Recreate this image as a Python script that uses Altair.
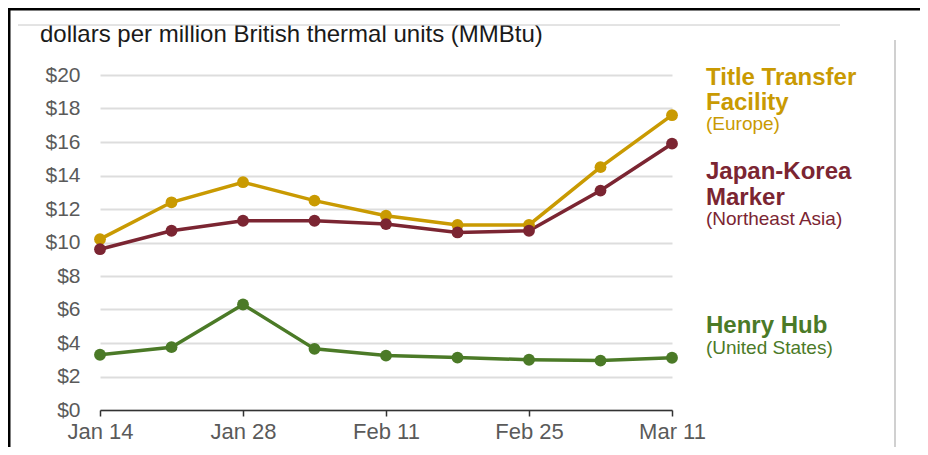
import altair as alt
import pandas as pd

dates = ["Jan 14", "Jan 21", "Jan 28", "Feb 4", "Feb 11", "Feb 18", "Feb 25", "Mar 4", "Mar 11"]
tick_dates = ["Jan 14", "Jan 28", "Feb 11", "Feb 25", "Mar 11"]
ttf = [10.2, 12.4, 13.6, 12.5, 11.6, 11.05, 11.05, 14.5, 17.6]
jkm = [9.6, 10.7, 11.3, 11.3, 11.1, 10.6, 10.7, 13.1, 15.9]
henry = [3.3, 3.75, 6.3, 3.65, 3.25, 3.13, 3.0, 2.95, 3.12]

series_names = ["Title Transfer Facility", "Japan-Korea Marker", "Henry Hub"]
series_colors = ["#C99A02", "#7B2532", "#4B7A27"]

unit_title = "dollars per million British thermal units (MMBtu)"
label_lines = [
    ("Title Transfer", "bold", 24, series_colors[0]),
    ("Facility", "bold", 24, series_colors[0]),
    ("(Europe)", "normal", 19, series_colors[0]),
    ("Japan-Korea", "bold", 24, series_colors[1]),
    ("Marker", "bold", 24, series_colors[1]),
    ("(Northeast Asia)", "normal", 19, series_colors[1]),
    ("Henry Hub", "bold", 24, series_colors[2]),
    ("(United States)", "normal", 19, series_colors[2]),
]
label_baselines = [10, 35, 55, 104, 130, 150, 258, 279]

rows = []
for name, vals in zip(series_names, [ttf, jkm, henry]):
    for d, v in zip(dates, vals):
        rows.append({"date": d, "price": v, "series": name})
df = pd.DataFrame(rows)

FONT = "Liberation Sans"

color = alt.Color("series:N", scale=alt.Scale(domain=series_names, range=series_colors), legend=None)
x = alt.X("date:O", sort=dates, title=None,
          scale=alt.Scale(type="point", padding=0),
          axis=alt.Axis(values=tick_dates, labelAngle=0, labelFontSize=22, labelFont=FONT,
                        labelColor="#5a5a5a", labelPadding=5, tickSize=6, tickWidth=1.5,
                        tickColor="#333333", domainColor="#333333", domainWidth=1.5,
                        grid=False))
y = alt.Y("price:Q", title=None,
          scale=alt.Scale(domain=[0, 20], nice=False, zero=True),
          axis=alt.Axis(values=list(range(0, 21, 2)), labelExpr="'$' + datum.value",
                        labelFontSize=21, labelFont=FONT, labelColor="#5a5a5a",
                        labelPadding=20, ticks=False, domain=False,
                        grid=True, gridColor="#dddddd", gridWidth=2))

base = alt.Chart(df)
lines = base.mark_line(strokeWidth=3.5).encode(x=x, y=y, color=color, detail="series:N")
points = base.mark_point(filled=True, size=140, opacity=1).encode(x=x, y=y, color=color)

layers = [lines, points]

title_mark = alt.Chart(pd.DataFrame({"t": [unit_title]})).mark_text(
    align="left", baseline="alphabetic", font=FONT, fontSize=24, color="#1a1a1a"
).encode(text="t:N", x=alt.value(-60), y=alt.value(-33))
layers.append(title_mark)

for (txt, weight, size, col), yb in zip(label_lines, label_baselines):
    layers.append(
        alt.Chart(pd.DataFrame({"t": [txt]})).mark_text(
            align="left", baseline="alphabetic", font=FONT, fontSize=size,
            fontWeight=weight, color=col
        ).encode(text="t:N", x=alt.value(606), y=alt.value(yb))
    )

# decorative frame lines
frame = [
    alt.Chart(pd.DataFrame({"a": [0]})).mark_rule(color="#000000", strokeWidth=3).encode(
        x=alt.value(-92), x2=alt.value(820), y=alt.value(-66)),
    alt.Chart(pd.DataFrame({"a": [0]})).mark_rule(color="#000000", strokeWidth=3).encode(
        x=alt.value(-91), y=alt.value(-67), y2=alt.value(372)),
    alt.Chart(pd.DataFrame({"a": [0]})).mark_rule(color="#c8c8c8", strokeWidth=1).encode(
        x=alt.value(-82), x2=alt.value(740), y=alt.value(-50)),
    alt.Chart(pd.DataFrame({"a": [0]})).mark_rule(color="#c0c0c0", strokeWidth=1.5).encode(
        x=alt.value(795), y=alt.value(-35), y2=alt.value(372)),
]
layers.extend(frame)

chart = alt.layer(*layers).properties(
    width=572, height=335,
    padding={"left": 92, "top": 67, "right": 248, "bottom": 37},
    autosize=alt.AutoSizeParams(type="none"),
    background="white",
).configure_view(stroke=None)

chart.save("out.html", embed_options={"renderer": "svg", "actions": False})
